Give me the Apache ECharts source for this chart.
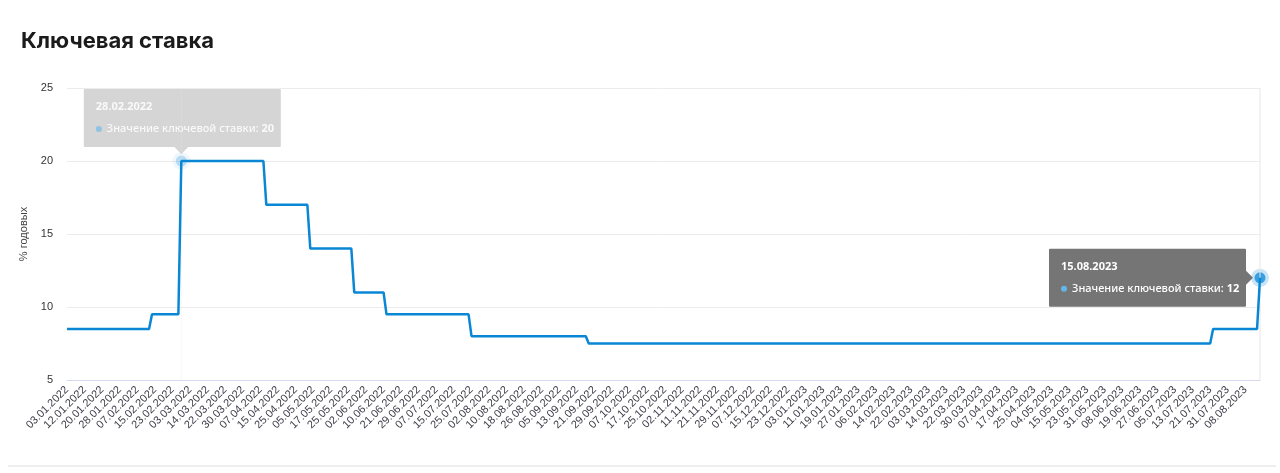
<!DOCTYPE html>
<html><head><meta charset="utf-8">
<script src="https://cdn.jsdelivr.net/npm/echarts@6/dist/echarts.min.js"></script>
<style>html,body{margin:0;padding:0;background:#fff}#c{width:1280px;height:473px}</style>
</head><body><div id="c"></div>
<script>
// Trading calendar: weekdays between these dates, minus the listed holidays
const calendarStart = [2022, 1, 3];
const calendarEnd = [2023, 8, 15];
const holidays = ['07.01.2022','08.03.2022','02.05.2022','03.05.2022','09.05.2022','10.05.2022','13.06.2022','04.11.2022',
                  '02.01.2023','23.02.2023','08.03.2023','01.05.2023','09.05.2023','12.06.2023'];
// Key rate schedule (date from which the rate applies, rate %)
const rateChangeDates = ['03.01.2022','14.02.2022','28.02.2022','11.04.2022','04.05.2022','27.05.2022','14.06.2022','25.07.2022','19.09.2022','24.07.2023','15.08.2023'];
const rateValues = [8.5, 9.5, 20, 17, 14, 11, 9.5, 8, 7.5, 8.5, 12];
const yTicks = [5, 10, 15, 20, 25];
const highlighted = ['28.02.2022', '15.08.2023'];
const seriesName = 'Значение ключевой ставки';

function fmt(d){
  return String(d.getUTCDate()).padStart(2,'0') + '.' + String(d.getUTCMonth()+1).padStart(2,'0') + '.' + d.getUTCFullYear();
}
const categories = [];
for (let t = Date.UTC(calendarStart[0], calendarStart[1]-1, calendarStart[2]); t <= Date.UTC(calendarEnd[0], calendarEnd[1]-1, calendarEnd[2]); t += 86400000) {
  const d = new Date(t); const w = d.getUTCDay();
  if (w === 0 || w === 6) continue;
  const s = fmt(d);
  if (holidays.includes(s)) continue;
  categories.push(s);
}
const values = [];
let k = 0;
categories.forEach(c => {
  if (k + 1 < rateChangeDates.length && c === rateChangeDates[k+1]) k++;
  values.push(rateValues[k]);
});

const chart = echarts.init(document.getElementById('c'), null, {renderer: 'canvas'});
const GRID = {left: 67, right: 20, top: 88, bottom: 93};
const LINE_COLOR = '#0a87d4';
const axisFont = '"Liberation Sans", Arial, sans-serif';
const tipFont = '"Noto Sans", "DejaVu Sans", sans-serif';

chart.setOption({
  animation: false,
  backgroundColor: '#fff',
  title: {
    text: 'Ключевая ставка', left: 16, top: 25,
    textStyle: {fontFamily: 'Inter, "Noto Sans", sans-serif', fontWeight: 700, fontSize: 22, color: '#1b1b1b'}
  },
  grid: GRID,
  xAxis: {
    type: 'category', data: categories, boundaryGap: false,
    axisLine: {lineStyle: {color: '#d6d8f0'}},
    axisTick: {show: false},
    axisLabel: {interval: 5, rotate: 45, fontSize: 11, color: '#3d3d4a', fontFamily: axisFont, margin: 8}
  },
  yAxis: {
    type: 'value', min: yTicks[0], max: yTicks[yTicks.length-1], interval: 5,
    name: '% годовых', nameLocation: 'middle', nameGap: 38, nameRotate: 90,
    nameTextStyle: {fontSize: 11, color: '#444', fontFamily: axisFont},
    axisLine: {show: false}, axisTick: {show: false},
    axisLabel: {fontSize: 11, color: '#333', fontFamily: axisFont, margin: 14},
    splitLine: {lineStyle: {color: '#ececec'}}
  },
  series: [{
    name: seriesName, type: 'line', data: values, showSymbol: false,
    lineStyle: {color: LINE_COLOR, width: 2.5}, itemStyle: {color: LINE_COLOR}
  }]
});

function tipGroup(idx, placement, opacity){
  const p = chart.convertToPixel({seriesIndex: 0}, [idx, values[idx]]);
  const px = p[0], py = p[1];
  const W = 197, H = 58, gap = 14;
  let bx, by, arrow;
  if (placement === 'left') {
    bx = px - gap - W; by = py - H/2;
    arrow = [[bx+W, py-7],[bx+W+7, py],[bx+W, py+7]];
  } else {
    bx = px - W/2 + 1; by = py - gap - H;
    arrow = [[px-7, by+H],[px+7, by+H],[px, by+H+7]];
  }
  const bg = '#757575';
  return [
    {type: 'line', silent: true, z: 1, shape: {x1: px, y1: GRID.top, x2: px, y2: 473-GRID.bottom},
     style: {stroke: '#e6e6e6', lineWidth: 1, opacity: opacity}},
    {type: 'group', z: 100, children: [
      {type: 'circle', shape: {cx: px, cy: py, r: 9}, style: {fill: 'rgba(58,159,224,0.28)', opacity: opacity}},
      {type: 'circle', shape: {cx: px, cy: py, r: 5.5}, style: {fill: '#3a9fe0', opacity: opacity}},
      {type: 'rect', shape: {x: bx, y: by, width: W, height: H, r: 1}, style: {fill: bg, opacity: opacity}},
      {type: 'polygon', shape: {points: arrow}, style: {fill: bg, opacity: opacity}},
      {type: 'text', x: bx + 12, y: by + 18, style: {text: categories[idx], fill: '#fff', font: 'bold 11px ' + tipFont, verticalAlign: 'middle', opacity: opacity < 1 ? 0.85 : 1}},
      {type: 'circle', shape: {cx: bx + 15, cy: by + 40, r: 3}, style: {fill: '#63b6ea', opacity: opacity < 1 ? 0.6 : 1}},
      {type: 'text', x: bx + 23, y: by + 40, style: {
        text: '{a|' + seriesName + ': }{b|' + values[idx] + '}',
        verticalAlign: 'middle', opacity: opacity < 1 ? 0.85 : 1,
        rich: {a: {fill: '#fff', fontSize: 11, fontWeight: 500, fontFamily: tipFont},
               b: {fill: '#fff', fontSize: 11, fontWeight: 'bold', fontFamily: tipFont}}
      }}
    ]}
  ];
}
const i1 = categories.indexOf(highlighted[0]);
const i2 = categories.indexOf(highlighted[1]);
chart.setOption({
  graphic: [].concat(
    tipGroup(i1, 'top', 0.3),
    tipGroup(i2, 'left', 1),
    [{type: 'line', silent: true, shape: {x1: 8, y1: 466, x2: 1276, y2: 466}, style: {stroke: '#eeeeee', lineWidth: 2}}]
  )
});
</script>
</body></html>
